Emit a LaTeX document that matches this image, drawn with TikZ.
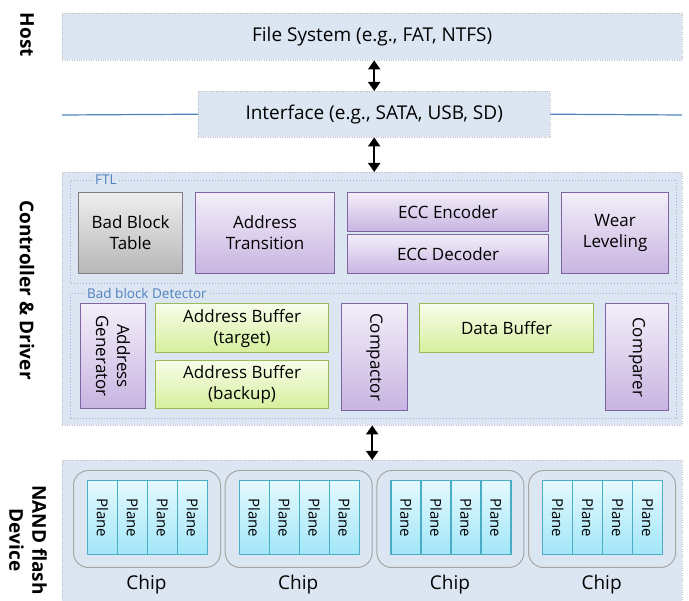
\documentclass[tikz,border=0pt]{standalone}
\usepackage{fontspec}
\setmainfont{Open Sans}
\usetikzlibrary{arrows.meta}
\definecolor{bgblue}{HTML}{DCE6F2}
\definecolor{grpblue}{HTML}{8DB3E2}
\definecolor{lblblue}{HTML}{4F81BD}
\definecolor{lineblue}{HTML}{4F81BD}
\definecolor{purpleline}{HTML}{8064A2}
\definecolor{purpletop}{HTML}{F3EEF9}
\definecolor{purplebot}{HTML}{C8B4E1}
\definecolor{greenline}{HTML}{9BBB59}
\definecolor{greentop}{HTML}{F8FDEA}
\definecolor{greenbot}{HTML}{D6EF9C}
\definecolor{grayline}{HTML}{7F7F7F}
\definecolor{graytop}{HTML}{EEEEEE}
\definecolor{graybot}{HTML}{B7B7B7}
\definecolor{planeline}{HTML}{4BACC6}
\definecolor{planetop}{HTML}{E4F9FE}
\definecolor{planebot}{HTML}{A2E6F8}
\definecolor{chipline}{HTML}{A6A6A6}
\begin{document}
\begin{tikzpicture}[x=1pt,y=-1pt,
    every node/.style={font=\fontsize{17}{21}\selectfont, inner sep=0pt},
    layer/.style={draw=gray!50, dotted, fill=bgblue, anchor=north west, font=\fontsize{19}{22}\selectfont},
    group/.style={draw=grpblue, dotted, line width=1pt, anchor=north west},
    grouplabel/.style={fill=bgblue, text=lblblue, font=\fontsize{13.5}{15}\selectfont, inner xsep=2pt, anchor=west},
    purplebox/.style={draw=purpleline, line width=1.2pt, top color=purpletop, bottom color=purplebot, anchor=north west, align=center},
    greenbox/.style={draw=greenline, line width=1.2pt, top color=greentop, bottom color=greenbot, anchor=north west, align=center},
    graybox/.style={draw=grayline, line width=1.2pt, top color=graytop, bottom color=graybot, anchor=north west, align=center},
    plane/.style={draw=planeline, line width=1.2pt, top color=planetop, bottom color=planebot, anchor=north west, minimum width=30, minimum height=74},
    chip/.style={draw=chipline, line width=1pt, rounded corners=15pt, fill=bgblue, anchor=north west, minimum width=147, minimum height=97},
    sidelabel/.style={rotate=-90, font=\bfseries\fontsize{19}{23}\selectfont, align=center},
    dblarrow/.style={{Triangle[width=12pt,length=9pt]}-{Triangle[width=12pt,length=9pt]}, line width=2pt},
  ]
  \useasboundingbox (0,0) rectangle (689,601);

  % layers
  \node[layer, minimum width=620, minimum height=47] (fs) at (62,13) {File System (e.g., FAT, NTFS)};
  \coordinate (lineL) at (62,115);
  \coordinate (lineR) at (682,115);
  \node[layer, minimum width=352, minimum height=46] (iface) at (198,91) {Interface (e.g., SATA, USB, SD)};
  \draw[lineblue, line width=1.2pt] (lineL) -- (iface.west);
  \draw[lineblue, line width=1.2pt] (iface.east) -- (lineR);
  \node[layer, minimum width=620, minimum height=253] (ctrl) at (62,172) {};
  \node[layer, minimum width=620, minimum height=141] (nand) at (62,460) {};

  % side labels
  \node[sidelabel] (hostlbl) at (27,35) {Host};
  \node[sidelabel] (ctrllbl) at (27,290) {Controller \& Driver};
  \node[sidelabel] (nandlbl) at (28,540) {NAND flash\\Device};

  % arrows
  \draw[dblarrow] (iface.north |- fs.south) -- (iface.north);
  \draw[dblarrow] (iface.south) -- (iface.south |- ctrl.north);
  \draw[dblarrow] (ctrl.south) -- (nand.north);

  % FTL
  \node[group, minimum width=606, minimum height=103] (ftl) at (70,180) {};
  \node[grouplabel] (ftllbl) at (93,180) {FTL};
  \node[graybox, minimum width=104, minimum height=81] (bbt) at (78,192) {Bad Block\\Table};
  \node[purplebox, minimum width=139, minimum height=81] (atr) at (195,192) {Address\\Transition};
  \node[purplebox, minimum width=201, minimum height=39] (enc) at (347,192) {ECC Encoder};
  \node[purplebox, minimum width=201, minimum height=39] (dec) at (347,234) {ECC Decoder};
  \node[purplebox, minimum width=107, minimum height=81] (wl) at (561,192) {Wear\\Leveling};

  % bad block detector
  \node[group, minimum width=606, minimum height=125] (bbd) at (70,293) {};
  \node[grouplabel] (bbdlbl) at (85,293) {Bad block Detector};
  \node[purplebox, minimum width=65, minimum height=105,
    label={[rotate=-90, align=center]center:Address\\Generator}] (agen) at (80,303) {};
  \node[greenbox, minimum width=173, minimum height=49] (abt) at (155,303) {Address Buffer\\(target)};
  \node[greenbox, minimum width=173, minimum height=48] (abb) at (155,360) {Address Buffer\\(backup)};
  \node[purplebox, minimum width=66, minimum height=107,
    label={[rotate=-90]center:Compactor}] (cmp) at (341,303) {};
  \node[greenbox, minimum width=174, minimum height=49] (dbuf) at (419,303) {Data Buffer};
  \node[purplebox, minimum width=63, minimum height=107,
    label={[rotate=-90]center:Comparer}] (cmpr) at (605,303) {};

  % chips
  \foreach \i in {1,...,4} {
    \node[chip] (chip\i) at ({73+151.7*(\i-1)},470) {};
    \node[font=\fontsize{19}{22}\selectfont] (chiplbl\i) at ({146.5+151.7*(\i-1)},585) {Chip};
    \foreach \j in {1,...,4}
      \node[plane, label={[rotate=-90, font=\fontsize{15}{17}\selectfont]center:Plane}] (plane\i\j)
        at ({87+151.7*(\i-1)+30*(\j-1)},480) {};
  }
\end{tikzpicture}
\end{document}
